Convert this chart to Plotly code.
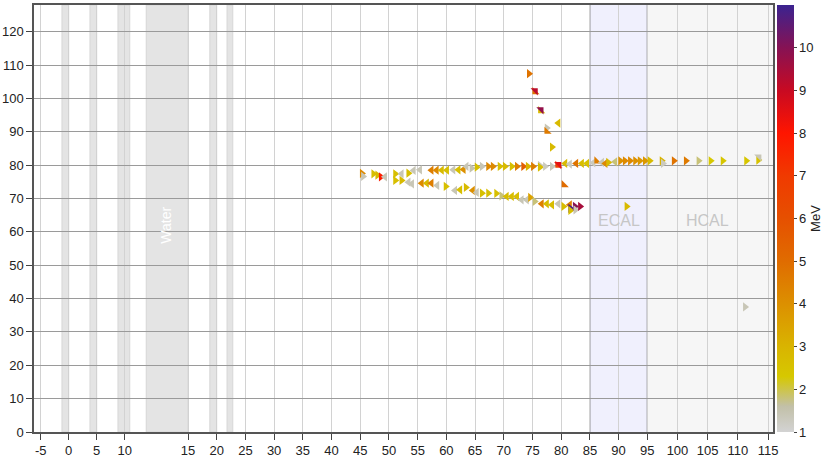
import numpy as np
import plotly.graph_objects as go

# piecewise x scale of the display (detector z -> axis units)
z_breaks = [-5, 10, 15, 95, 115]
u_breaks = [40.7, 124.7, 188.0, 647.3, 768.0]

def zmap(v):
    return np.interp(v, z_breaks, u_breaks, left=None, right=None)

x_ticks = [-5, 0, 5, 10, 15, 20, 25, 30, 35, 40, 45, 50, 55, 60, 65, 70, 75, 80,
           85, 90, 95, 100, 105, 110, 115]

# passive material bands (z ranges)
band_lo = [-1.2, 3.8, 8.8, 11.7, 18.8, 21.8]
band_hi = [0.0, 5.0, 10.4, 15.0, 20.0, 22.8]

# hits: z, y, energy (MeV), marker direction
upper_x = [45.3, 45.5, 47.3, 48.0, 48.6, 49.3, 51.1, 52.2, 53.4, 54.3, 55.4,
           57.4, 58.3, 59.2, 60.1, 61.2, 62.1, 63.0, 63.5, 64.4, 65.3, 66.2, 67.3,
           68.1, 69.3, 70.2, 71.4, 72.3, 73.4, 74.2, 75.1, 76.3, 76.3, 77.2, 78.4,
           80.7, 81.5, 82.6, 83.6, 84.5, 85.6, 86.2, 87.1, 87.7, 88.2, 89.4,
           90.3, 91.1, 92.0, 92.9, 93.7, 94.6, 95.4, 97.4, 97.6, 99.4, 101.4,
           103.5, 105.5, 107.5, 111.4, 113.4, 113.5]
upper_y = [77.5, 76.6, 77.4, 77.0, 76.5, 76.5, 77.4, 77.4, 77.6, 78.4, 78.6,
           78.5, 78.5, 78.5, 78.5, 78.6, 78.6, 78.7, 79.6, 79.1, 79.4, 79.6, 79.6,
           79.6, 79.6, 79.6, 79.6, 79.6, 79.6, 79.6, 79.6, 79.9, 79.4, 79.6, 79.6,
           80.5, 80.3, 80.5, 80.5, 80.5, 80.7, 81.2, 80.8, 80.5, 80.8, 81.0,
           81.3, 81.3, 81.3, 81.3, 81.3, 81.3, 81.3, 81.3, 80.5, 81.3, 81.3,
           81.3, 81.3, 81.3, 81.3, 81.5, 82.5]
upper_e = [4.2, 1.4, 2.6, 2.8, 7.8, 1.4, 2.6, 1.4, 2.6, 1.4, 1.4,
           4.5, 4.2, 2.8, 2.6, 1.4, 2.6, 4.0, 1.4, 1.5, 2.6, 1.4, 4.2,
           4.2, 2.6, 2.8, 2.6, 4.5, 5.5, 3.0, 4.5, 1.3, 2.6, 1.3, 1.4,
           2.8, 1.3, 4.8, 2.7, 2.5, 1.3, 4.5, 1.4, 4.2, 2.8, 1.8,
           4.0, 4.2, 4.2, 4.0, 3.8, 3.8, 2.8, 3.0, 1.3, 4.8, 4.6,
           1.8, 2.3, 2.4, 2.4, 2.5, 1.4]
upper_dir = ["R", "R", "R", "R", "R", "L", "R", "L", "R", "L", "L",
             "L", "L", "L", "L", "L", "L", "L", "L", "R", "R", "R", "R",
             "R", "R", "R", "R", "R", "R", "R", "R", "R", "R", "R", "R",
             "L", "L", "L", "L", "L", "L", "SW", "L", "L", "R", "L",
             "R", "R", "R", "R", "R", "R", "R", "R", "R", "R", "R",
             "R", "R", "R", "R", "R", "NE"]

lower_x = [51.1, 52.2, 53.4, 54.0, 55.7, 56.6, 57.4, 58.4, 59.9, 61.5, 62.4,
           63.4, 64.6, 65.3, 66.2, 67.3, 68.7, 69.6, 70.5, 71.4, 72.3, 73.1,
           74.0, 74.6, 75.4, 76.6, 77.5, 78.4, 79.5, 80.4, 81.5, 81.6, 81.6,
           82.4, 82.5, 83.3]
lower_y = [75.4, 75.4, 74.9, 74.4, 74.6, 74.6, 74.6, 73.9, 73.6, 72.4, 72.6,
           73.3, 72.4, 71.8, 71.6, 71.6, 71.5, 70.8, 70.6, 70.6, 70.6, 69.6,
           69.6, 70.3, 69.1, 68.4, 68.4, 68.1, 68.4, 67.6, 68.1, 67.0, 66.4,
           67.6, 66.6, 67.6]
lower_e = [2.6, 2.8, 1.4, 1.4, 4.2, 2.8, 4.5, 1.4, 2.6, 1.4, 2.6,
           2.8, 4.0, 1.4, 2.6, 2.6, 2.6, 1.8, 2.7, 2.7, 2.7, 1.4,
           1.4, 3.5, 1.8, 4.5, 2.7, 2.7, 1.4, 2.7, 4.5, 10.8, 2.6,
           10.0, 1.4, 9.5]
lower_dir = ["R", "R", "L", "L", "L", "L", "L", "L", "R", "L", "L",
             "R", "L", "L", "R", "R", "R", "R", "L", "L", "L", "L",
             "L", "R", "R", "L", "L", "L", "L", "R", "L", "R", "R",
             "R", "R", "R"]

branch_x = [74.4, 75.4, 75.5, 76.4, 76.5, 77.5, 77.5, 79.5, 78.4, 79.4, 79.6, 80.5]
branch_y = [107.4, 102.0, 102.3, 96.3, 96.6, 91.1, 90.1, 92.6, 85.4, 79.9, 80.2, 74.1]
branch_e = [4.8, 4.8, 9.2, 2.8, 9.8, 1.4, 4.6, 2.8, 2.8, 6.5, 8.5, 5.0]
branch_dir = ["R", "SW", "NE", "SW", "NE", "R", "SW", "L", "R", "SW", "NE", "SW"]

stray_x = [91.4, 111.2]
stray_y = [67.6, 37.5]
stray_e = [2.8, 1.4]
stray_dir = ["R", "R"]

symbols = {"R": "triangle-right", "L": "triangle-left",
           "NE": "triangle-ne", "SW": "triangle-sw"}

colorscale = [
    [0.00, "#d3d3d3"], [0.06, "#c2c0a8"], [0.13, "#d6c800"], [0.20, "#d9b400"],
    [0.30, "#dc9000"], [0.40, "#e06c00"], [0.50, "#e65000"], [0.60, "#f03a00"],
    [0.70, "#ff1500"], [0.80, "#c80a22"], [0.90, "#861254"], [1.00, "#3b2390"],
]

fig = go.Figure()

for hx, hy, he, hd in [(upper_x, upper_y, upper_e, upper_dir),
                       (lower_x, lower_y, lower_e, lower_dir),
                       (branch_x, branch_y, branch_e, branch_dir),
                       (stray_x, stray_y, stray_e, stray_dir)]:
    fig.add_trace(go.Scatter(
        x=zmap(hx), y=hy, mode="markers",
        marker=dict(size=8, symbol=[symbols[d] for d in hd],
                    color=he, coloraxis="coloraxis", line=dict(width=0)),
        showlegend=False, hoverinfo="skip"
    ))

x_right = 773  # right end of the axis (units)

shapes = []
for lo, hi in zip(band_lo, band_hi):
    shapes.append(dict(type="rect", xref="x", yref="paper", x0=zmap(lo), x1=zmap(hi),
                       y0=0, y1=1, fillcolor="#e4e4e4", line=dict(color="#d6d6d6", width=1),
                       layer="below"))
# ECAL / HCAL regions
shapes.append(dict(type="rect", xref="x", yref="paper", x0=zmap(85), x1=zmap(95), y0=0, y1=1,
                   fillcolor="#f0f0fd", line=dict(width=0), layer="below"))
shapes.append(dict(type="rect", xref="x", yref="paper", x0=zmap(95), x1=x_right, y0=0, y1=1,
                   fillcolor="#f6f6f6", line=dict(width=0), layer="below"))
shapes.append(dict(type="line", xref="x", yref="paper", x0=zmap(85), x1=zmap(85), y0=0, y1=1,
                   line=dict(color="#777777", width=1), layer="between"))
shapes.append(dict(type="line", xref="x", yref="paper", x0=zmap(95), x1=zmap(95), y0=0, y1=1,
                   line=dict(color="#444444", width=1), layer="between"))

fig.update_layout(
    width=830, height=455,
    margin=dict(l=34, r=57, t=5, b=23, autoexpand=False),
    paper_bgcolor="white", plot_bgcolor="white",
    font=dict(family="Liberation Sans, Arial, sans-serif", size=13, color="#222222"),
    shapes=shapes,
    xaxis=dict(range=[34, x_right], tickvals=zmap(x_ticks), ticktext=[str(t) for t in x_ticks],
               showgrid=True, gridcolor="#d2d2d2", gridwidth=1, zeroline=False,
               showline=True, linecolor="#555555", linewidth=1.5, mirror=True,
               ticks="outside", ticklen=6, tickcolor="#444444", automargin=False),
    yaxis=dict(range=[0, 128], tickvals=list(range(0, 121, 10)),
               showgrid=True, gridcolor="#9a9a9a", gridwidth=1, zeroline=False,
               showline=True, linecolor="#555555", linewidth=1.5, mirror=True,
               ticks="outside", ticklen=6, tickcolor="#444444", automargin=False),
    coloraxis=dict(
        colorscale=colorscale, cmin=1, cmax=11,
        colorbar=dict(thickness=17, len=1, lenmode="fraction", y=0.5, ypad=0,
                      x=1, xanchor="left", xpad=4, outlinewidth=0,
                      tickvals=list(range(1, 11)), ticks="outside", ticklen=3,
                      tickfont=dict(size=13),
                      title=dict(text="MeV", side="right", font=dict(size=13)))
    ),
    annotations=[
        dict(x=zmap(13.3), y=62, xref="x", yref="y", text="Water", textangle=-90,
             showarrow=False, font=dict(color="white", size=14)),
        dict(x=zmap(90), y=63.5, xref="x", yref="y", text="ECAL",
             showarrow=False, font=dict(color="#c6c6c6", size=16)),
        dict(x=zmap(105), y=63.5, xref="x", yref="y", text="HCAL",
             showarrow=False, font=dict(color="#c6c6c6", size=16)),
    ]
)

# page body margin off, so the figure sits at the window's corner
fig.write_html("out.html", config={"displayModeBar": False},
               post_script="document.body.style.margin='0px';")
